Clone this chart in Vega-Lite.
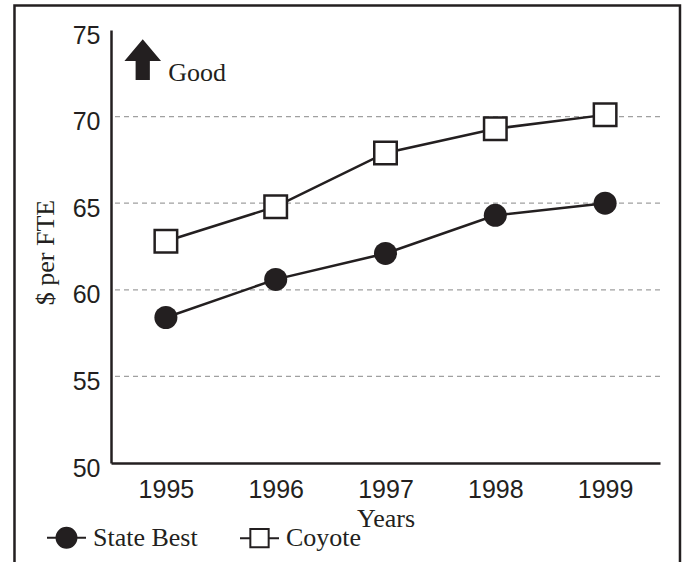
{
  "$schema": "https://vega.github.io/schema/vega-lite/v6.json",
  "autosize": {"type": "none"},
  "padding": {"left": 111, "top": 30, "right": 22, "bottom": 99},
  "width": 549,
  "height": 433,
  "background": "white",
  "datasets": {
    "series": [
      {"year": 1995, "value": 58.4, "series": "State Best"},
      {"year": 1996, "value": 60.6, "series": "State Best"},
      {"year": 1997, "value": 62.1, "series": "State Best"},
      {"year": 1998, "value": 64.3, "series": "State Best"},
      {"year": 1999, "value": 65.0, "series": "State Best"},
      {"year": 1995, "value": 62.8, "series": "Coyote"},
      {"year": 1996, "value": 64.8, "series": "Coyote"},
      {"year": 1997, "value": 67.9, "series": "Coyote"},
      {"year": 1998, "value": 69.3, "series": "Coyote"},
      {"year": 1999, "value": 70.1, "series": "Coyote"}
    ],
    "grid": [{"value": 55}, {"value": 60}, {"value": 65}, {"value": 70}],
    "frame": [{"year": 1993.621, "year2": 1999.682, "value": 76.41, "value2": 44}],
    "note": [{"year": 1994.789, "value": 73.285, "label": "Good", "ty": 1995.022, "tv": 72.03}]
  },
  "layer": [
    {
      "data": {"name": "frame"},
      "mark": {"type": "rect", "filled": false, "stroke": "#231f20", "strokeWidth": 2.5, "clip": false},
      "encoding": {
        "x": {"field": "year", "type": "quantitative", "title": "Years", "scale": {"domain": [1994.5, 1999.5], "nice": false, "zero": false}},
        "x2": {"field": "year2"},
        "y": {"field": "value", "type": "quantitative", "title": "$ per FTE", "scale": {"domain": [50, 75], "nice": false, "zero": false}},
        "y2": {"field": "value2"}
      }
    },
    {
      "data": {"name": "grid"},
      "mark": {"type": "rule", "stroke": "#a0a0a0", "strokeWidth": 1.3, "strokeDash": [5, 4]},
      "encoding": {
        "y": {"field": "value", "type": "quantitative", "title": "$ per FTE"}
      }
    },
    {
      "data": {"name": "series"},
      "mark": {"type": "line", "stroke": "#231f20", "strokeWidth": 2.5},
      "encoding": {
        "x": {"field": "year", "type": "quantitative", "title": "Years", "axis": {"values": [1995, 1996, 1997, 1998, 1999], "format": "d"}},
        "y": {"field": "value", "type": "quantitative", "title": "$ per FTE", "axis": {"values": [50, 55, 60, 65, 70, 75]}},
        "detail": {"field": "series"}
      }
    },
    {
      "data": {"name": "series"},
      "transform": [{"filter": "datum.series === 'State Best'"}],
      "mark": {"type": "point", "shape": "circle", "filled": true, "fill": "#231f20", "strokeWidth": 0, "size": 531, "opacity": 1},
      "encoding": {
        "x": {"field": "year", "type": "quantitative", "title": "Years"},
        "y": {"field": "value", "type": "quantitative", "title": "$ per FTE"}
      }
    },
    {
      "data": {"name": "series"},
      "transform": [{"filter": "datum.series === 'Coyote'"}],
      "mark": {"type": "point", "shape": "square", "filled": true, "fill": "white", "stroke": "#231f20", "strokeWidth": 2.5, "size": 506, "opacity": 1},
      "encoding": {
        "x": {"field": "year", "type": "quantitative", "title": "Years"},
        "y": {"field": "value", "type": "quantitative", "title": "$ per FTE"}
      }
    },
    {
      "data": {"name": "series"},
      "mark": {"type": "point", "filled": true, "strokeWidth": 2},
      "encoding": {
        "x": {"field": "year", "type": "quantitative", "title": "Years"},
        "y": {"field": "value", "type": "quantitative", "title": "$ per FTE"},
        "opacity": {"value": 0},
        "shape": {
          "field": "series", "type": "nominal",
          "scale": {"domain": ["State Best", "Coyote"], "range": ["M-1,0L-0.51,0M0.51,0L1,0M-0.51,0A0.51,0.51,0,1,1,0.51,0A0.51,0.51,0,1,1,-0.51,0Z", "M-1,0L-0.47,0M0.47,0L1,0M-0.47,-0.47L0.47,-0.47L0.47,0.47L-0.47,0.47Z"]},
          "legend": {"title": null, "orient": "none", "direction": "horizontal", "legendX": -65, "legendY": 487}
        },
        "fill": {
          "field": "series", "type": "nominal",
          "scale": {"domain": ["State Best", "Coyote"], "range": ["#231f20", "white"]},
          "legend": {"title": null, "orient": "none", "direction": "horizontal", "legendX": -65, "legendY": 487}
        },
        "stroke": {
          "field": "series", "type": "nominal",
          "scale": {"domain": ["State Best", "Coyote"], "range": ["#231f20", "#231f20"]},
          "legend": {"title": null, "orient": "none", "direction": "horizontal", "legendX": -65, "legendY": 487}
        }
      }
    },
    {
      "data": {"name": "note"},
      "mark": {"type": "point", "shape": "M0,-1L0.9,0.06L0.35,0.06L0.35,1L-0.35,1L-0.35,0.06L-0.9,0.06Z", "filled": true, "fill": "#231f20", "strokeWidth": 0, "size": 1656, "opacity": 1},
      "encoding": {
        "x": {"field": "year", "type": "quantitative", "title": "Years"},
        "y": {"field": "value", "type": "quantitative", "title": "$ per FTE"}
      }
    },
    {
      "data": {"name": "note"},
      "mark": {"type": "text", "align": "left", "baseline": "alphabetic", "font": "Liberation Serif", "fontSize": 26, "color": "#231f20"},
      "encoding": {
        "x": {"field": "ty", "type": "quantitative", "title": "Years"},
        "y": {"field": "tv", "type": "quantitative", "title": "$ per FTE"},
        "text": {"field": "label"}
      }
    }
  ],
  "config": {
    "view": {"stroke": null},
    "axis": {
      "domainColor": "#231f20", "domainWidth": 2.5, "ticks": false, "tickSize": 0, "grid": false,
      "labelFont": "Liberation Sans", "labelFontSize": 25, "labelColor": "#231f20",
      "titleFont": "Liberation Serif", "titleFontSize": 26, "titleFontWeight": "normal", "titleColor": "#231f20"
    },
    "axisX": {"labelPadding": 14, "titlePadding": 3, "labelFlush": false, "labelAngle": 0},
    "axisY": {"labelPadding": 11, "titlePadding": 14, "labelOffset": 5, "titleY": 222},
    "legend": {
      "labelFont": "Liberation Serif", "labelFontSize": 26, "labelColor": "#231f20",
      "symbolSize": 1521, "symbolStrokeWidth": 2, "symbolOpacity": 1,
      "labelOffset": 6, "columnPadding": 38, "padding": 0
    }
  }
}
